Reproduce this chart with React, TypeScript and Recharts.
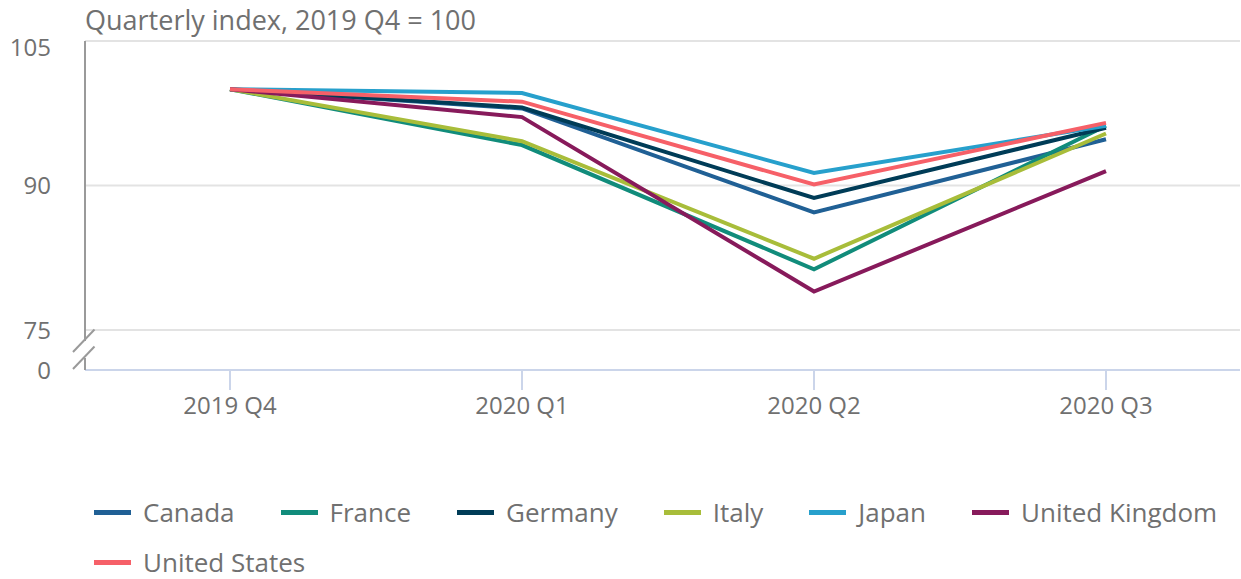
import React from 'react';
import { LineChart, Line, XAxis, YAxis, CartesianGrid, Legend } from 'recharts';

const quarters = ['2019 Q4', '2020 Q1', '2020 Q2', '2020 Q3'];
const canada = [100, 98.0, 87.2, 94.8];
const france = [100, 94.2, 81.3, 96.2];
const germany = [100, 98.1, 88.7, 96.0];
const italy = [100, 94.6, 82.4, 95.4];
const japan = [100, 99.6, 91.3, 96.2];
const uk = [100, 97.1, 79.0, 91.5];
const us = [100, 98.7, 90.1, 96.5];

const Y_FLOOR = 70.85; // position of the broken-axis "0" label
const yTicks = [Y_FLOOR, 75, 90, 105];

const seriesList = [
  { key: 'canada', name: 'Canada', values: canada, color: '#206095' },
  { key: 'france', name: 'France', values: france, color: '#118C7B' },
  { key: 'germany', name: 'Germany', values: germany, color: '#003C57' },
  { key: 'italy', name: 'Italy', values: italy, color: '#A8BD3A' },
  { key: 'japan', name: 'Japan', values: japan, color: '#27A0CC' },
  { key: 'uk', name: 'United Kingdom', values: uk, color: '#871A5B' },
  { key: 'us', name: 'United States', values: us, color: '#F66068' },
];

const data = quarters.map((q, i) => {
  const row: Record<string, any> = { quarter: q };
  seriesList.forEach((s) => {
    row[s.key] = s.values[i];
  });
  return row;
});

const FONT = '"Open Sans", sans-serif';
const TEXT = '#707070';
const Y_TICK_MARGIN = 34;
const AXIS_GREY = '#9a9a9a';

const YTick = (props: any) => {
  const { x, y, payload } = props;
  const isFloor = payload.value === Y_FLOOR;
  const label = isFloor ? '0' : String(payload.value);
  const ax = x + Y_TICK_MARGIN;
  const dy = payload.value === 105 ? 6 : 0;
  return (
    <g>
      {isFloor && (
        <g>
          <rect x={ax - 4} y={y - 29} width={8} height={17} fill="#ffffff" />
          <line x1={ax - 12} y1={y - 18} x2={ax + 9.5} y2={y - 40.5} stroke={AXIS_GREY} strokeWidth={2} />
          <line x1={ax - 12} y1={y - 1} x2={ax + 9.5} y2={y - 23.5} stroke={AXIS_GREY} strokeWidth={2} />
        </g>
      )}
      <text x={x} y={y + dy} dy="0.355em" textAnchor="end" fill={TEXT} fontSize={24} fontFamily={FONT}>
        {label}
      </text>
    </g>
  );
};

const LegendContent = (props: any) => {
  const { payload } = props;
  return (
    <div style={{ display: 'flex', flexWrap: 'wrap', columnGap: 46, width: 1147, fontFamily: FONT }}>
      {(payload || []).map((p: any) => (
        <div key={p.value} style={{ display: 'flex', alignItems: 'center', height: 50 }}>
          <span style={{ display: 'inline-block', width: 37, height: 5, background: p.color, marginRight: 12 }} />
          <span style={{ fontSize: 26, lineHeight: '26px', color: TEXT, whiteSpace: 'nowrap' }}>{p.value}</span>
        </div>
      ))}
    </div>
  );
};

export default function App() {
  return (
    <div style={{ position: 'absolute', left: 0, top: 0, width: 1241, height: 579, background: '#fff' }}>
      <div
        style={{
          position: 'absolute',
          left: 85,
          top: 2,
          fontFamily: FONT,
          fontSize: 27,
          color: TEXT,
          whiteSpace: 'nowrap',
          lineHeight: '36px',
          zIndex: 2,
        }}
      >
        Quarterly index, 2019 Q4 = 100
      </div>
      <LineChart
        width={1241}
        height={579}
        data={data}
        margin={{ top: 41, right: 1, left: 0, bottom: 149 }}
        style={{ fontFamily: FONT }}
      >
        <CartesianGrid vertical={false} stroke="#e3e3e3" strokeWidth={2} />
        <XAxis
          dataKey="quarter"
          interval={0}
          height={60}
          padding={{ left: 145, right: 134 }}
          tickSize={20}
          tickMargin={7}
          axisLine={{ stroke: '#cbd5ea', strokeWidth: 2 }}
          tickLine={{ stroke: '#cbd5ea', strokeWidth: 2 }}
          tick={{ fill: TEXT, fontSize: 24, fontFamily: FONT }}
        />
        <YAxis
          type="number"
          domain={[Y_FLOOR, 105]}
          ticks={yTicks}
          width={85}
          tickSize={0}
          tickMargin={Y_TICK_MARGIN}
          tickLine={false}
          axisLine={{ stroke: AXIS_GREY, strokeWidth: 2 }}
          tick={<YTick />}
          allowDataOverflow
        />
        <Legend
          verticalAlign="middle"
          align="center"
          layout="horizontal"
          content={<LegendContent />}
          wrapperStyle={{ top: 487, left: 94, width: 1147 }}
        />
        {seriesList.map((s) => (
          <Line
            key={s.key}
            type="linear"
            dataKey={s.key}
            name={s.name}
            stroke={s.color}
            strokeWidth={4}
            dot={false}
            activeDot={false}
            isAnimationActive={false}
          />
        ))}
      </LineChart>
    </div>
  );
}
